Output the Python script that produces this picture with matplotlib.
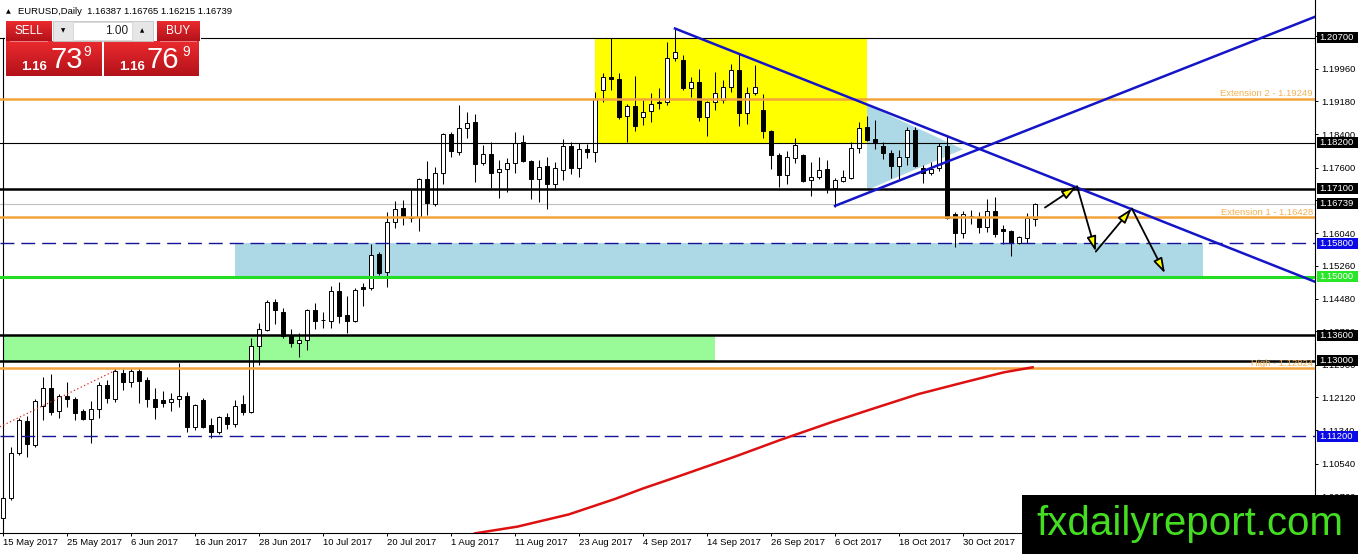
import numpy as np
import matplotlib
matplotlib.use('Agg')
import matplotlib.pyplot as plt
import matplotlib.transforms as mtransforms
from matplotlib.patches import Rectangle, Polygon
from matplotlib.colors import LinearSegmentedColormap
import pandas as pd

plt.rcParams['font.family'] = ['Liberation Sans', 'DejaVu Sans']

W, H = 1358, 554

# === EURUSD daily candles, 15 May 2017 -> 10 Nov 2017 ===
START_DATE = '2017-05-15'
OPEN = [1.0925, 1.0972, 1.1080, 1.1156, 1.1099, 1.1192, 1.1235, 1.1180, 1.1216, 1.1208,
        1.1180, 1.1161, 1.1185, 1.1242, 1.1208, 1.1270, 1.1249, 1.1275, 1.1254, 1.1208,
        1.1206, 1.1201, 1.1208, 1.1216, 1.1142, 1.1206, 1.1146, 1.1130, 1.1165, 1.1149,
        1.1196, 1.1177, 1.1335, 1.1373, 1.1440, 1.1416, 1.1359, 1.1342, 1.1349, 1.1421,
        1.1397, 1.1394, 1.1466, 1.1409, 1.1394, 1.1475, 1.1473, 1.1554, 1.1511, 1.1631,
        1.1664, 1.1642, 1.1642, 1.1733, 1.1673, 1.1747, 1.1840, 1.1797, 1.1855, 1.1869,
        1.1771, 1.1793, 1.1750, 1.1757, 1.1771, 1.1821, 1.1776, 1.1733, 1.1764, 1.1721,
        1.1755, 1.1812, 1.1759, 1.1805, 1.1797, 1.1945, 1.1976, 1.1972, 1.1883, 1.1907,
        1.1881, 1.1895, 1.1917, 1.1917, 1.2022, 1.2017, 1.1950, 1.1964, 1.1881, 1.1917,
        1.1922, 1.1953, 1.1993, 1.1890, 1.1938, 1.1898, 1.1848, 1.1790, 1.1743, 1.1783,
        1.1790, 1.1731, 1.1738, 1.1757, 1.1712, 1.1728, 1.1735, 1.1807, 1.1857, 1.1828,
        1.1812, 1.1795, 1.1764, 1.1786, 1.1850, 1.1759, 1.1747, 1.1759, 1.1812, 1.1650,
        1.1604, 1.1645, 1.1642, 1.1619, 1.1657, 1.1614, 1.1609, 1.1580, 1.1592, 1.16387]
HIGH = [1.0987, 1.1094, 1.1163, 1.1168, 1.1208, 1.1261, 1.1268, 1.1220, 1.1249, 1.1213,
        1.1185, 1.1204, 1.1249, 1.1254, 1.1282, 1.1280, 1.1282, 1.1282, 1.1261, 1.1235,
        1.1227, 1.1223, 1.1294, 1.1225, 1.1196, 1.1211, 1.1163, 1.1168, 1.1175, 1.1206,
        1.1218, 1.1354, 1.1390, 1.1444, 1.1447, 1.1425, 1.1375, 1.1366, 1.1423, 1.1437,
        1.1416, 1.1478, 1.1487, 1.1454, 1.1473, 1.1485, 1.1578, 1.1559, 1.1654, 1.1681,
        1.1683, 1.1709, 1.1735, 1.1776, 1.1762, 1.1843, 1.1845, 1.1910, 1.1893, 1.1888,
        1.1814, 1.1821, 1.1778, 1.1783, 1.1845, 1.1838, 1.1778, 1.1778, 1.1786, 1.1774,
        1.1828, 1.1821, 1.1819, 1.1817, 1.1941, 1.1986, 1.2069, 1.1986, 1.1912, 1.1979,
        1.1922, 1.1938, 1.1950, 1.2060, 1.2091, 1.2029, 1.1976, 1.1995, 1.1919, 1.1988,
        1.1969, 1.2007, 1.2034, 1.1953, 1.2005, 1.1936, 1.1850, 1.1795, 1.1800, 1.1831,
        1.1793, 1.1774, 1.1786, 1.1778, 1.1735, 1.1755, 1.1821, 1.1869, 1.1883, 1.1874,
        1.1821, 1.1802, 1.1802, 1.1857, 1.1857, 1.1766, 1.1774, 1.1819, 1.1838, 1.1654,
        1.1657, 1.1659, 1.1654, 1.1685, 1.1690, 1.1623, 1.1611, 1.1597, 1.1652, 1.16765]
LOW = [1.0908, 1.0968, 1.1075, 1.1070, 1.1094, 1.1158, 1.1170, 1.1163, 1.1189, 1.1158,
       1.1158, 1.1103, 1.1163, 1.1199, 1.1201, 1.1230, 1.1237, 1.1199, 1.1189, 1.1161,
       1.1189, 1.1180, 1.1189, 1.1130, 1.1134, 1.1139, 1.1115, 1.1125, 1.1137, 1.1142,
       1.1170, 1.1175, 1.1289, 1.1371, 1.1387, 1.1354, 1.1332, 1.1309, 1.1325, 1.1375,
       1.1378, 1.1378, 1.1390, 1.1366, 1.1392, 1.1430, 1.1468, 1.1504, 1.1475, 1.1616,
       1.1623, 1.1631, 1.1609, 1.1647, 1.1669, 1.1721, 1.1786, 1.1790, 1.1831, 1.1726,
       1.1766, 1.1712, 1.1688, 1.1702, 1.1747, 1.1774, 1.1685, 1.1678, 1.1662, 1.1707,
       1.1731, 1.1745, 1.1738, 1.1783, 1.1774, 1.1917, 1.1945, 1.1876, 1.1821, 1.1848,
       1.1862, 1.1869, 1.1900, 1.1910, 1.2015, 1.1945, 1.1929, 1.1871, 1.1836, 1.1898,
       1.1914, 1.1941, 1.1859, 1.1864, 1.1933, 1.1831, 1.1757, 1.1714, 1.1721, 1.1771,
       1.1726, 1.1693, 1.1733, 1.1700, 1.1666, 1.1726, 1.1733, 1.1795, 1.1824, 1.1805,
       1.1781, 1.1735, 1.1733, 1.1766, 1.1762, 1.1724, 1.1743, 1.1752, 1.1638, 1.1571,
       1.1592, 1.1626, 1.1604, 1.1607, 1.1595, 1.1578, 1.1549, 1.1579, 1.1580, 1.16215]
CLOSE = [1.0972, 1.1080, 1.1158, 1.1101, 1.1204, 1.1235, 1.1177, 1.1216, 1.1208, 1.1175,
         1.1161, 1.1185, 1.1242, 1.1211, 1.1275, 1.1249, 1.1275, 1.1251, 1.1208, 1.1189,
         1.1199, 1.1208, 1.1216, 1.1142, 1.1194, 1.1142, 1.1130, 1.1165, 1.1149, 1.1192,
         1.1177, 1.1335, 1.1375, 1.1440, 1.1421, 1.1359, 1.1342, 1.1349, 1.1421, 1.1394,
         1.1396, 1.1466, 1.1406, 1.1394, 1.1468, 1.1471, 1.1552, 1.1509, 1.1631, 1.1662,
         1.1642, 1.1640, 1.1733, 1.1676, 1.1747, 1.1840, 1.1800, 1.1855, 1.1867, 1.1769,
         1.1793, 1.1747, 1.1757, 1.1771, 1.1819, 1.1776, 1.1733, 1.1762, 1.1721, 1.1759,
         1.1812, 1.1759, 1.1805, 1.1797, 1.1924, 1.1976, 1.1972, 1.1881, 1.1907, 1.1859,
         1.1893, 1.1912, 1.1914, 1.2022, 1.2036, 1.1950, 1.1964, 1.1881, 1.1917, 1.1938,
         1.1953, 1.1993, 1.1890, 1.1938, 1.1953, 1.1848, 1.1790, 1.1743, 1.1786, 1.1814,
         1.1728, 1.1738, 1.1755, 1.1712, 1.1731, 1.1738, 1.1807, 1.1855, 1.1826, 1.1821,
         1.1795, 1.1764, 1.1786, 1.1850, 1.1764, 1.1747, 1.1757, 1.1812, 1.1640, 1.1604,
         1.1650, 1.1644, 1.1619, 1.1657, 1.1602, 1.1609, 1.1580, 1.1595, 1.1640, 1.16739]

# horizontal levels
LEVELS_THIN = [1.20700, 1.18200]
LEVELS_THICK = [1.17100, 1.13600, 1.13000]
LEVELS_DASHED = [1.15800, 1.11200]
LEVEL_GREEN = 1.15000
LEVELS_FIBO = [1.19249, 1.16428, 1.12824]
FIBO_NAMES = ['Extension 2', 'Extension 1', 'High']
BID, ASK = 1.16739, 1.16769
LOT = '1.00'

# drawn objects: (bar from, bar to, price low, price high)
YELLOW_ZONE = (74, 108, 1.18200, 1.20700)
BLUE_ZONE = (29, 150, 1.15000, 1.15800)
GREEN_ZONE = (0, 89, 1.13000, 1.13600)
TRIANGLE_X = [108, 120, 108]
TRIANGLE_Y = [1.1910, 1.1804, 1.1707]
TREND_DOWN_X, TREND_DOWN_Y = [84, 164], [1.2092, 1.1488]
TREND_UP_X, TREND_UP_Y = [104, 164], [1.1669, 1.2120]
RED_DOT_X, RED_DOT_Y = [-0.4, 14.2], [1.1142, 1.1278]
MA_X = [59, 64.3, 70.7, 76.5, 80.0, 84.3, 91.5, 97.2, 103.7, 108.7, 114.4, 120.1, 125.1, 128.7]
MA_Y = [1.0888, 1.0904, 1.0933, 1.0970, 1.0995, 1.1023, 1.1071, 1.1111, 1.1154, 1.1185,
        1.1220, 1.1248, 1.1272, 1.1284]
PATH_X = [130.25, 134.25, 136.6, 141.1, 145.25]
PATH_Y = [1.1665, 1.1716, 1.1560, 1.1663, 1.1508]
YTICKS = [1.0976, 1.1054, 1.1134, 1.1212, 1.1290, 1.1370, 1.1448, 1.1526, 1.1604, 1.1682,
          1.1760, 1.1840, 1.1918, 1.1996, 1.2074]
N_DATE_LABELS = 16   # the 17th (9 Nov) sits under the watermark

XLIM = (-0.375, 164.0)
YLIM = (1.08888, 1.21600)
FS = 6.8

fig = plt.figure(figsize=(W / 100, H / 100), dpi=100)
ax = fig.add_axes([0, 21 / H, 1315 / W, 533 / H])
ax.set_xlim(*XLIM)
ax.set_ylim(*YLIM)

# --- background zones ---
for (x0, x1, y0, y1), col in [(YELLOW_ZONE, '#ffff00'), (BLUE_ZONE, '#add8e6'), (GREEN_ZONE, '#98fb98')]:
    ax.add_patch(Rectangle((x0, y0), x1 - x0, y1 - y0, fc=col, ec='none', zorder=1))
ax.add_patch(Polygon(list(zip(TRIANGLE_X, TRIANGLE_Y)), closed=True, fc='#add8e6', ec='none', zorder=1))

# --- candles ---
o, h, l, c = map(np.array, (OPEN, HIGH, LOW, CLOSE))
x = np.arange(len(o))
bull = c >= o
ax.vlines(x, l, h, color='black', lw=0.75, zorder=3)
ax.bar(x, np.abs(c - o), bottom=np.minimum(o, c), width=0.55,
       color=np.where(bull, 'white', 'black'), edgecolor='black', linewidth=0.7, zorder=3.5)

# --- levels ---
for p in LEVELS_THIN:
    ax.axhline(p, color='black', lw=0.8, zorder=4)
for p in LEVELS_THICK:
    ax.axhline(p, color='black', lw=1.8, zorder=4)
for p in LEVELS_DASHED:
    ax.axhline(p, color='#141496', lw=1.0, dashes=(10, 5), zorder=4)
ax.axhline(LEVEL_GREEN, color='#22dd22', lw=2.2, zorder=4)
ax.axhline(CLOSE[-1], color='#c0c0c0', lw=0.8, zorder=2)
for p, name in zip(LEVELS_FIBO, FIBO_NAMES):
    ax.axhline(p, color='#f2a43a', lw=1.8, zorder=4)
    ax.annotate(f'{name} - {p:.5f}', xy=(1, p), xycoords=('axes fraction', 'data'),
                xytext=(-1.5, 1.6), textcoords='offset points', ha='right', va='baseline',
                fontsize=FS, color='#f3b356', zorder=5)

# --- trend lines, MA, path ---
ax.plot(TREND_DOWN_X, TREND_DOWN_Y, color='#1515c8', lw=1.8, zorder=5)
ax.plot(TREND_UP_X, TREND_UP_Y, color='#1515c8', lw=1.8, zorder=5)
ax.plot(RED_DOT_X, RED_DOT_Y, color='#dd2222', lw=0.9, ls=(0, (1, 2)), zorder=5)
ax.plot(MA_X, MA_Y, color='#dd1111', lw=1.8, zorder=5)
for k in range(len(PATH_X) - 1):
    ax.annotate('', xy=(PATH_X[k + 1], PATH_Y[k + 1]), xytext=(PATH_X[k], PATH_Y[k]),
                arrowprops=dict(arrowstyle='-|>,head_length=0.9,head_width=0.28',
                                fc='#ffff00', ec='black', lw=1.3, shrinkA=0, shrinkB=0,
                                mutation_scale=10), zorder=6)

# --- axes styling ---
ax.spines['top'].set_visible(False)
ax.spines['left'].set_position(('data', -0.04))
ax.spines['left'].set_bounds(YLIM[0], LEVELS_THIN[0])
for s in ['left', 'right', 'bottom']:
    ax.spines[s].set_linewidth(0.8)
ax.yaxis.tick_right()
ax.set_yticks(YTICKS)
ax.set_yticklabels([f'{t:.5f}' for t in YTICKS])
ax.tick_params(axis='y', direction='out', length=2.3, width=0.7, pad=2.4, labelsize=FS)

dates = pd.bdate_range(START_DATE, periods=len(OPEN))
ax.set_xticks(x[::8][:N_DATE_LABELS])
ax.set_xticklabels([f'{d.day} {d:%b %Y}' for d in dates[::8][:N_DATE_LABELS]], ha='left')
ax.tick_params(axis='x', direction='out', length=2.3, width=0.7, pad=1.5, labelsize=FS)

# price labels on the right scale
trans = mtransforms.blended_transform_factory(fig.transFigure, ax.transData)
pp = (YLIM[1] - YLIM[0]) / 533
tags = [(p, 'black') for p in LEVELS_THIN + LEVELS_THICK] + [(CLOSE[-1], 'black')]
tags += [(p, '#0a0ae6') for p in LEVELS_DASHED] + [(LEVEL_GREEN, '#28e628')]
for p, bg in tags:
    ax.add_patch(Rectangle((1316.5 / W, p - 5.5 * pp), 41.5 / W, 11 * pp, transform=trans,
                           fc=bg, ec='none', clip_on=False, zorder=6))
    ax.text(1319.5 / W, p, f'{p:.5f}', transform=trans, color='white', fontsize=FS,
            va='center', ha='left', clip_on=False, zorder=7)

# --- overlay in pixel coordinates: header, trade panel, watermark ---
ov = fig.add_axes([0, 0, 1, 1], zorder=10)
ov.axis('off')
red = LinearSegmentedColormap.from_list('red', ['#ea2a2e', '#b3121a'])
grad = np.linspace(0, 1, 64).reshape(-1, 1)


def red_box(x0, y0, x1, y1):
    ov.imshow(grad, cmap=red, extent=(x0, x1, y1, y0), aspect='auto', zorder=2)


ov.text(6, 13.2, '\u25B2', fontsize=4.5, family='DejaVu Sans', va='baseline')
ov.text(18, 14, f'EURUSD,Daily  {OPEN[-1]:.5f} {HIGH[-1]:.5f} {LOW[-1]:.5f} {CLOSE[-1]:.5f}',
        fontsize=FS, va='baseline')

ov.add_patch(Rectangle((5, 20), 196, 21, fc='white', ec='none', zorder=1))
red_box(6, 20.7, 52, 40.7)
red_box(156.7, 20.7, 199, 40.7)
red_box(6, 41.7, 101.7, 76)
red_box(104, 41.7, 199, 76)
ov.plot([10, 47], [41.2, 41.2], color='#f08c8c', lw=0.6, zorder=3)
ov.plot([160, 196], [41.2, 41.2], color='#f08c8c', lw=0.6, zorder=3)
ov.add_patch(Rectangle((52.7, 20.7), 100.5, 20, fc='#e6e6e6', ec='#c4c4c4', lw=0.6, zorder=2))
ov.add_patch(Rectangle((72.7, 21.5), 59.6, 18.4, fc='white', ec='#d0d0d0', lw=0.5, zorder=3))
ov.text(63.5, 31, '\u25BC', fontsize=4, family='DejaVu Sans', ha='center', va='center', zorder=4)
ov.text(142, 31, '\u25B2', fontsize=4, family='DejaVu Sans', ha='center', va='center', zorder=4)
ov.text(128, 31, LOT, fontsize=8.5, color='#202020', ha='right', va='center', zorder=4)
ov.text(29, 31, 'SELL', fontsize=8.5, color='white', ha='center', va='center', zorder=4)
ov.text(178, 31, 'BUY', fontsize=8.5, color='white', ha='center', va='center', zorder=4)

for px, x1, x2, x3 in [(BID, 21, 50, 83), (ASK, 119, 147, 182)]:
    s = f'{px:.5f}'
    ov.text(x1, 70, s[:4], fontsize=9.5, fontweight='bold', color='white', va='baseline', zorder=4)
    ov.text(x2, 68.3, s[4:6], fontsize=21, color='white', va='baseline', zorder=4)
    ov.text(x3, 56.5, s[6], fontsize=10, color='white', va='baseline', zorder=4)

ov.add_patch(Rectangle((1022, 495), W - 1022, H - 495, fc='black', ec='none', zorder=5))
ov.text(1036, 535, 'fxdailyreport.com', color='#44dd22', fontsize=29, va='baseline',
        ha='left', zorder=6)

ov.set_xlim(0, W)
ov.set_ylim(H, 0)

fig.savefig('out.png', dpi=100)
